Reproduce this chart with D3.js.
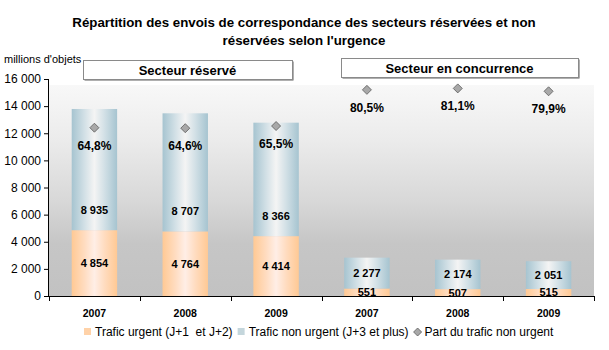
<!DOCTYPE html>
<html><head><meta charset="utf-8">
<script src="https://cdn.jsdelivr.net/npm/d3@7"></script>
<style>
html,body{margin:0;padding:0;background:#fff;}
svg{display:block;font-family:"Liberation Sans",Arial,sans-serif;}
</style></head>
<body><svg id="chart" width="609" height="350"></svg>
<script>
const categories = ["2007","2008","2009","2007","2008","2009"];
const sectorLabels = ["Secteur réservé","Secteur en concurrence"];
const urgent = [4854,4764,4414,551,507,515];
const nonUrgent = [8935,8707,8366,2277,2174,2051];
const partNonUrgent = [64.8,64.6,65.5,80.5,81.1,79.9];
const yTicks = [0,2000,4000,6000,8000,10000,12000,14000,16000];
const legendLabels = ["Trafic urgent (J+1  et J+2)","Trafic non urgent (J+3 et plus)","Part du trafic non urgent"];
const titleLines = ["Répartition des envois de correspondance des secteurs réservées et non","réservées selon l'urgence"];
const unitLabel = "millions d'objets";

(function(){
const svg = d3.select("#chart");
const loc = d3.formatLocale({decimal:",",thousands:"\u00a0",grouping:[3],currency:["",""]});
const fmt = loc.format(",d");
const fmtPct = v => loc.format(".1f")(v) + "%";

const pLeft = 49, pRight = 594, pTop = 79, pBottom = 296;
const x = d3.scaleBand().domain(d3.range(categories.length)).range([pLeft,pRight]).paddingInner(0.5).paddingOuter(0.25);
const y = d3.scaleLinear().domain([0,16000]).range([pBottom,pTop]);
const yPct = d3.scaleLinear().domain([-5,85]).range([pBottom,pTop]);

const defs = svg.append("defs");
const bg = defs.append("linearGradient").attr("id","bg").attr("x1",0).attr("x2",0).attr("y1",0).attr("y2",1);
[[0,"#f8f8f8"],[0.25,"#ececec"],[0.55,"#d8d8d8"],[0.75,"#c6c6c6"],[1,"#c2c2c2"]].forEach(s=>bg.append("stop").attr("offset",s[0]).attr("stop-color",s[1]));
function hgrad(id, edge, mid, center){
  const g = defs.append("linearGradient").attr("id",id).attr("x1",0).attr("x2",1).attr("y1",0).attr("y2",0);
  [[0,edge],[0.28,mid],[0.5,center],[0.72,mid],[1,edge]].forEach(s=>g.append("stop").attr("offset",s[0]).attr("stop-color",s[1]));
}
hgrad("gU","#ffc994","#ffdcc0","#ffeee6");
hgrad("gN","#a6c4d0","#d2e0e6","#f4f4f4");

// title
svg.append("g").selectAll("text").data(titleLines).join("text")
  .attr("x",304).attr("y",(d,i)=>27+i*18).attr("text-anchor","middle")
  .attr("font-size",13.3).attr("font-weight","bold").attr("fill","#000").text(d=>d);

// plot background
svg.append("rect").attr("x",pLeft).attr("y",pTop+6).attr("width",pRight-pLeft).attr("height",pBottom-pTop-6).attr("fill","url(#bg)");

// unit label
svg.append("text").attr("x",4).attr("y",63).attr("font-size",11).attr("fill","#000").text(unitLabel);

// bars
const g = svg.append("g");
categories.forEach((c,i)=>{
  const x0 = x(i), w = x.bandwidth();
  g.append("rect").attr("x",x0).attr("width",w).attr("y",y(urgent[i])).attr("height",y(0)-y(urgent[i])).attr("fill","url(#gU)");
  g.append("rect").attr("x",x0).attr("width",w).attr("y",y(urgent[i]+nonUrgent[i])).attr("height",y(urgent[i])-y(urgent[i]+nonUrgent[i])).attr("fill","url(#gN)");
});

// value labels
categories.forEach((c,i)=>{
  const cx = x(i)+x.bandwidth()/2;
  const uy = (y(0)+y(urgent[i]))/2;
  g.append("text").attr("x",cx).attr("y",uy).attr("dy","0.36em").attr("text-anchor","middle")
    .attr("font-size",11).attr("font-weight","bold").text(fmt(urgent[i]));
  const mid = (y(urgent[i])+y(urgent[i]+nonUrgent[i]))/2;
  const ny = Math.max(mid, y(urgent[i])-20);
  g.append("text").attr("x",cx).attr("y",ny).attr("dy","0.36em").attr("text-anchor","middle")
    .attr("font-size",11).attr("font-weight","bold").text(fmt(nonUrgent[i]));
});

// diamonds
const diamond = "M0,-4.5L4.5,0L0,4.5L-4.5,0Z";
categories.forEach((c,i)=>{
  const cx = x(i)+x.bandwidth()/2, cy = yPct(partNonUrgent[i]);
  g.append("path").attr("d",diamond).attr("transform",`translate(${cx},${cy})`).attr("fill","#a8a8a8").attr("stroke","#5a5a5a").attr("stroke-width",0.8);
  g.append("text").attr("x",cx).attr("y",cy+17.5).attr("dy","0.36em").attr("text-anchor","middle")
    .attr("font-size",12).attr("font-weight","bold").text(fmtPct(partNonUrgent[i]));
});

// y axis
const ya = svg.append("g").attr("transform",`translate(${pLeft},0)`)
  .call(d3.axisLeft(y).tickValues(yTicks).tickSize(5).tickPadding(3).tickFormat(fmt));
ya.select(".domain").attr("stroke","#000").attr("d",`M-0.5,${pTop}V${pBottom}`);
ya.selectAll(".tick line").attr("stroke","#000");
ya.selectAll(".tick text").attr("font-size",12).attr("font-family","Liberation Sans, Arial, sans-serif").attr("fill","#000");

// x axis
const xa = svg.append("g");
xa.append("line").attr("x1",pLeft).attr("x2",pRight).attr("y1",pBottom+0.5).attr("y2",pBottom+0.5).attr("stroke","#000");
d3.range(categories.length+1).forEach(i=>{
  const bx = Math.round(x.range()[0]+i*x.step())+0.5;
  xa.append("line").attr("x1",bx).attr("x2",bx).attr("y1",pBottom).attr("y2",pBottom+5).attr("stroke","#000");
});
xa.selectAll("text.cat").data(categories).join("text").attr("class","cat")
  .attr("x",(d,i)=>x(i)+x.bandwidth()/2).attr("y",317).attr("text-anchor","middle")
  .attr("font-size",10.5).attr("font-weight","bold").text(d=>d);

// sector header boxes
const boxes = [{x:83,y:60,w:209,h:19},{x:341,y:58,w:237,h:19}];
boxes.forEach((b,i)=>{
  svg.append("rect").attr("x",b.x+1.5).attr("y",b.y+1.5).attr("width",b.w).attr("height",b.h).attr("fill","#606060");
  svg.append("rect").attr("x",b.x+0.5).attr("y",b.y+0.5).attr("width",b.w).attr("height",b.h).attr("fill","#fff").attr("stroke","#8a8a8a");
  svg.append("text").attr("x",b.x+b.w/2).attr("y",b.y+b.h/2+1).attr("dy","0.36em").attr("text-anchor","middle")
    .attr("font-size",13).attr("font-weight","bold").text(sectorLabels[i]);
});

// legend
const lg = svg.append("g");
let lx = 84; const ly = 332;
legendLabels.forEach((t,i)=>{
  if(i<2){
    lg.append("rect").attr("x",lx).attr("y",ly-4).attr("width",7).attr("height",7).attr("fill",i===0?"#ffd2a8":"#c4d6dc");
  } else {
    lg.append("path").attr("d","M0,-4L4,0L0,4L-4,0Z").attr("transform",`translate(${lx+4},${ly})`).attr("fill","#a8a8a8").attr("stroke","#5a5a5a").attr("stroke-width",0.8);
  }
  const tx = lg.append("text").attr("x",lx+11).attr("y",ly).attr("dy","0.36em").attr("font-size",12).attr("fill","#000").style("white-space","pre").text(t);
  lx += 11 + tx.node().getComputedTextLength() + 5;
});
})();
</script></body></html>
